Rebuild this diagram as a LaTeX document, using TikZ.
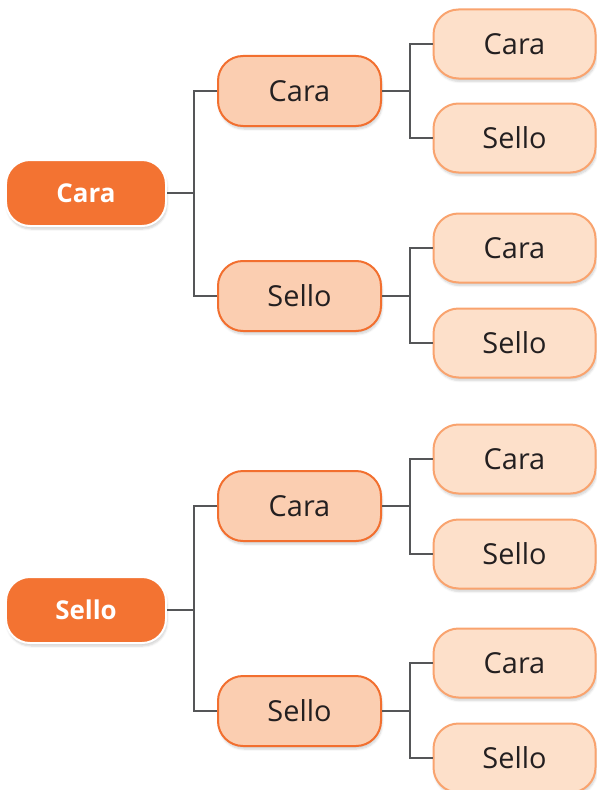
\documentclass[tikz,border=0pt]{standalone}
\usepackage{fontspec}
\setmainfont{Open Sans}
\usetikzlibrary{shadows.blur}
\definecolor{rootfill}{HTML}{F37332}
\definecolor{midfill}{HTML}{FBCEB1}
\definecolor{midline}{HTML}{F26F2F}
\definecolor{leaffill}{HTML}{FDE0CA}
\definecolor{leafline}{HTML}{F9A36E}
\definecolor{txt}{HTML}{231F20}
\definecolor{conn}{HTML}{555658}
\tikzset{
  boxshadow/.style={blur shadow={shadow xshift=1bp,shadow yshift=-3bp,shadow opacity=18,shadow blur steps=6}},
  rootbox/.style={boxshadow,fill=rootfill,draw=white,line width=2bp,rounded corners=24bp,
    minimum width=160bp,minimum height=66bp,inner sep=0pt,text=white,
    font=\fontsize{26}{30}\selectfont\bfseries},
  midbox/.style={boxshadow,fill=midfill,draw=midline,line width=2bp,rounded corners=25bp,
    minimum width=163bp,minimum height=70bp,inner sep=0pt,text=txt,
    font=\fontsize{29}{34}\selectfont},
  leafbox/.style={boxshadow,fill=leaffill,draw=leafline,line width=2bp,rounded corners=25bp,
    minimum width=162bp,minimum height=69bp,inner sep=0pt,text=txt,
    font=\fontsize{29}{34}\selectfont},
  link/.style={draw=conn,line width=2.2bp}
}
\begin{document}
\begin{tikzpicture}[x=1bp,y=-1bp]
\useasboundingbox (0,0) rectangle (597,790);
% top tree
\node[rootbox] (r1) at (86,193) {Cara};
\node[midbox] (m1) at (299.5,91) {Cara};
\node[midbox] (m2) at (299.5,296) {Sello};
\node[leafbox] (l1) at (514.5,44) {Cara};
\node[leafbox] (l2) at (514.5,138) {Sello};
\node[leafbox] (l3) at (514.5,248) {Cara};
\node[leafbox] (l4) at (514.5,343) {Sello};
% bottom tree
\node[rootbox] (r2) at (86,610) {Sello};
\node[midbox] (m3) at (299.5,506) {Cara};
\node[midbox] (m4) at (299.5,711) {Sello};
\node[leafbox] (l5) at (514.5,459) {Cara};
\node[leafbox] (l6) at (514.5,554) {Sello};
\node[leafbox] (l7) at (514.5,663) {Cara};
\node[leafbox] (l8) at (514.5,758) {Sello};
% connectors
\foreach \r/\a/\b in {r1/m1/m2, r2/m3/m4}{
  \coordinate (f) at ([xshift=27bp]\r.east);
  \draw[link] (\r.east) -- (f);
  \draw[link] (\a.west) -| (f) |- (\b.west);
}
\foreach \m/\a/\b in {m1/l1/l2, m2/l3/l4, m3/l5/l6, m4/l7/l8}{
  \coordinate (g) at ([xshift=28bp]\m.east);
  \draw[link] (\m.east) -- (g);
  \draw[link] (\a.west) -| (g) |- (\b.west);
}
\end{tikzpicture}
\end{document}
